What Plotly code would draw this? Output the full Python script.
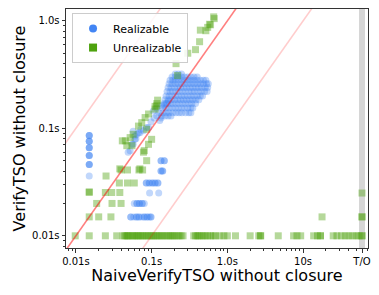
import math
import plotly.graph_objects as go

T_O = 60.0

# ---------------- data (seconds) ----------------
# small instances (left part)
real_low_x = [
    0.015, 0.015, 0.015, 0.015, 0.015, 0.015, 0.015, 0.015, 0.015, 0.015, 0.015,
    0.015, 0.015, 0.015, 0.015, 0.015,
    0.085, 0.093, 0.102, 0.111, 0.121, 0.093, 0.111, 0.085, 0.102, 0.121,
    0.094, 0.124,
    0.133, 0.147, 0.147, 0.133,
    0.133, 0.140, 0.140, 0.133,
    0.059, 0.064, 0.069, 0.075, 0.080, 0.064, 0.069, 0.075,
    0.053, 0.058, 0.063, 0.068, 0.074, 0.080, 0.087, 0.093, 0.098, 0.063, 0.080,
    0.053, 0.068, 0.087, 0.098,
    0.049, 0.052, 0.057, 0.060, 0.067, 0.078, 0.091, 0.117, 0.136, 0.167,
    0.117, 0.105, 0.086, 0.070, 0.060, 0.055, 0.064, 0.072, 0.098, 0.108,
    0.125, 0.145, 0.155, 0.057, 0.062, 0.128, 0.133,
]
real_low_y = [
    0.086, 0.076, 0.066, 0.056, 0.046, 0.036, 0.086, 0.076, 0.066, 0.056, 0.046,
    0.086, 0.076, 0.066, 0.056, 0.046,
    0.031, 0.031, 0.031, 0.031, 0.031, 0.031, 0.031, 0.031, 0.031, 0.031,
    0.025, 0.025,
    0.050, 0.050, 0.050, 0.050,
    0.040, 0.040, 0.040, 0.040,
    0.020, 0.020, 0.020, 0.020, 0.020, 0.020, 0.020, 0.020,
    0.015, 0.015, 0.015, 0.015, 0.015, 0.015, 0.015, 0.015, 0.015, 0.015, 0.015,
    0.015, 0.015, 0.015, 0.015,
    0.060, 0.062, 0.071, 0.079, 0.091, 0.095, 0.102, 0.131, 0.162, 0.180,
    0.155, 0.145, 0.102, 0.091, 0.085, 0.071, 0.088, 0.098, 0.115, 0.125,
    0.140, 0.165, 0.170, 0.094, 0.080, 0.118, 0.125,
]

# dense cluster of realizable instances (0.13s - 0.56s)
cluster_x = [
    0.205, 0.225, 0.248,
    0.186, 0.205, 0.225, 0.248, 0.272, 0.30, 0.33, 0.363, 0.40,
    0.175, 0.19, 0.205, 0.225, 0.248, 0.272, 0.30, 0.33, 0.363, 0.40, 0.44, 0.484, 0.52,
    0.17, 0.186, 0.205, 0.225, 0.248, 0.272, 0.30, 0.33, 0.363, 0.40, 0.44, 0.484, 0.532, 0.56,
    0.165, 0.18, 0.20, 0.22, 0.24, 0.265, 0.29, 0.32, 0.35, 0.385, 0.42, 0.46, 0.51, 0.55,
    0.16, 0.175, 0.19, 0.21, 0.23, 0.255, 0.28, 0.31, 0.34, 0.37, 0.41, 0.45, 0.50, 0.54,
    0.155, 0.17, 0.186, 0.205, 0.225, 0.248, 0.272, 0.30, 0.33, 0.363, 0.40, 0.44, 0.47,
    0.15, 0.165, 0.18, 0.20, 0.22, 0.24, 0.265, 0.29, 0.32, 0.35, 0.385, 0.42,
    0.145, 0.16, 0.175, 0.19, 0.21, 0.23, 0.255, 0.28, 0.31, 0.34, 0.38,
    0.14, 0.154, 0.169, 0.186, 0.205, 0.225, 0.248, 0.272, 0.30, 0.33, 0.35,
    0.14, 0.155, 0.17, 0.19, 0.21, 0.23, 0.25, 0.28, 0.31, 0.33,
    0.135, 0.15, 0.165, 0.18,
]
cluster_y = [
    0.32, 0.32, 0.32,
    0.30, 0.30, 0.30, 0.30, 0.30, 0.30, 0.30, 0.30, 0.30,
    0.28, 0.28, 0.28, 0.28, 0.28, 0.28, 0.28, 0.28, 0.28, 0.28, 0.28, 0.28, 0.28,
    0.26, 0.26, 0.26, 0.26, 0.26, 0.26, 0.26, 0.26, 0.26, 0.26, 0.26, 0.26, 0.26, 0.26,
    0.24, 0.24, 0.24, 0.24, 0.24, 0.24, 0.24, 0.24, 0.24, 0.24, 0.24, 0.24, 0.24, 0.24,
    0.22, 0.22, 0.22, 0.22, 0.22, 0.22, 0.22, 0.22, 0.22, 0.22, 0.22, 0.22, 0.22, 0.22,
    0.20, 0.20, 0.20, 0.20, 0.20, 0.20, 0.20, 0.20, 0.20, 0.20, 0.20, 0.20, 0.20,
    0.185, 0.185, 0.185, 0.185, 0.185, 0.185, 0.185, 0.185, 0.185, 0.185, 0.185, 0.185,
    0.17, 0.17, 0.17, 0.17, 0.17, 0.17, 0.17, 0.17, 0.17, 0.17, 0.17,
    0.155, 0.155, 0.155, 0.155, 0.155, 0.155, 0.155, 0.155, 0.155, 0.155, 0.155,
    0.14, 0.14, 0.14, 0.14, 0.14, 0.14, 0.14, 0.14, 0.14, 0.14,
    0.13, 0.13, 0.13, 0.13,
]

real_x = real_low_x + cluster_x
real_y = real_low_y + cluster_y

unreal_x = [
    # upper streak
    0.66, 0.67, 0.58, 0.60, 0.55, 0.44, 0.52, 0.43, 0.38, 0.30, 0.21, 0.22,
    # mixed with the blue tail
    0.117, 0.111, 0.091, 0.082, 0.074, 0.067, 0.057, 0.052, 0.045, 0.047, 0.055,
    0.100, 0.091, 0.078, 0.086, 0.038, 0.070, 0.117, 0.111, 0.120, 0.086, 0.041,
    # lower left
    0.015, 0.015, 0.025, 0.0395, 0.048, 0.068, 0.076, 0.080,
    0.0375, 0.048, 0.059,
    0.0245, 0.0297, 0.038,
    0.030, 0.0395, 0.0188,
    0.015, 0.020, 0.029,
    # bottom row (0.01s)
    0.0098, 0.015, 0.0245, 0.0346,
    0.042, 0.044, 0.046, 0.048, 0.050, 0.053, 0.056, 0.059, 0.062, 0.065, 0.068, 0.072, 0.076,
    0.080, 0.085, 0.090, 0.095, 0.100, 0.106, 0.112, 0.118, 0.125, 0.133, 0.140, 0.150,
    0.160, 0.170, 0.180, 0.190, 0.200, 0.215, 0.230, 0.245, 0.260,
    0.36, 0.38, 0.40, 0.42, 0.45, 0.48, 0.51, 0.55, 0.60, 0.65, 0.70, 0.80, 0.90, 1.0,
    1.28, 2.0, 2.6, 2.75, 2.75, 4.7, 7.5, 8.3, 9.3, 13.8, 15.5, 17.0, 17.0,
    25.0, 28.0, 32.0, 36.0, 40.0, 45.0, 50.0, 55.0, T_O, T_O,
    # timeouts / slow above the bottom row
    17.8, T_O, T_O, T_O,
]
unreal_y = [
    1.09, 1.05, 0.93, 0.92, 0.87, 0.82, 0.81, 0.64, 0.54, 0.50, 0.40, 0.31,
    0.162, 0.151, 0.136, 0.126, 0.113, 0.105, 0.088, 0.082, 0.0765, 0.069, 0.069,
    0.079, 0.071, 0.060, 0.050, 0.042, 0.042, 0.170, 0.160, 0.183, 0.098, 0.0765,
    0.0255, 0.0255, 0.036, 0.041, 0.041, 0.041, 0.041, 0.062,
    0.031, 0.031, 0.031,
    0.0253, 0.0253, 0.0253,
    0.020, 0.020, 0.020,
    0.015, 0.015, 0.015,
    0.01, 0.01, 0.01, 0.01,
    0.01, 0.01, 0.01, 0.01, 0.01, 0.01, 0.01, 0.01, 0.01, 0.01, 0.01, 0.01, 0.01,
    0.01, 0.01, 0.01, 0.01, 0.01, 0.01, 0.01, 0.01, 0.01, 0.01, 0.01, 0.01,
    0.01, 0.01, 0.01, 0.01, 0.01, 0.01, 0.01, 0.01, 0.01,
    0.01, 0.01, 0.01, 0.01, 0.01, 0.01, 0.01, 0.01, 0.01, 0.01, 0.01, 0.01, 0.01, 0.01,
    0.01, 0.01, 0.01, 0.01, 0.01, 0.01, 0.01, 0.01, 0.01, 0.01, 0.01, 0.01, 0.01,
    0.01, 0.01, 0.01, 0.01, 0.01, 0.01, 0.01, 0.01, 0.01, 0.01,
    0.015, 0.015, 0.015, 0.025,
]

x_tickvals = [0.01, 0.1, 1.0, 10.0, T_O]
x_ticktext = ["0.01s", "0.1s", "1.0s", "10s", "T/O"]
y_tickvals = [0.01, 0.1, 1.0]
y_ticktext = ["0.01s", "0.1s", "1.0s"]

x_range = [0.0074, 72.0]
y_range = [0.0077, 1.29]

BLUE = "rgb(66,133,244)"
GREEN = "rgb(78,162,14)"
FONT = "DejaVu Sans"

minor_vals = [m * 10.0 ** e for e in range(-3, 3) for m in range(2, 10)]

fig = go.Figure()

# timeout band
fig.add_trace(go.Scatter(x=[T_O, T_O], y=[1e-4, 100], mode="lines",
                         line=dict(color="rgba(200,200,200,0.75)", width=6),
                         showlegend=False, hoverinfo="skip"))

fig.add_trace(go.Scatter(x=real_x, y=real_y, mode="markers", name="Realizable",
                         marker=dict(color=BLUE, size=7, opacity=0.33, symbol="circle",
                                     line=dict(width=0)),
                         showlegend=False))
fig.add_trace(go.Scatter(x=unreal_x, y=unreal_y, mode="markers", name="Unrealizable",
                         marker=dict(color=GREEN, size=7, opacity=0.42, symbol="square",
                                     line=dict(width=0)),
                         showlegend=False))

# reference lines y = x, y = 10x, y = x/10
lx = [1e-4, 1e3]
for k, col in [(10.0, "rgba(255,0,0,0.2)"), (0.1, "rgba(255,0,0,0.2)"), (1.0, "rgba(255,0,0,0.5)")]:
    fig.add_trace(go.Scatter(x=lx, y=[k * v for v in lx], mode="lines",
                             line=dict(color=col, width=1.6),
                             showlegend=False, hoverinfo="skip"))

# legend entries (full opacity)
fig.add_trace(go.Scatter(x=[None], y=[None], mode="markers", name="Realizable",
                         marker=dict(color=BLUE, size=8, symbol="circle")))
fig.add_trace(go.Scatter(x=[None], y=[None], mode="markers", name="Unrealizable",
                         marker=dict(color=GREEN, size=8, symbol="square")))

axis_common = dict(type="log", showgrid=False, zeroline=False, showline=True,
                   linecolor="#333", linewidth=1, mirror=True, ticks="outside",
                   ticklen=3.5, tickwidth=0.8, tickcolor="#333", automargin=False,
                   tickfont=dict(family=FONT, size=10, color="black"))

# the page body adds an 8px offset, so the figure is 8px smaller than the window
fig.update_layout(
    width=371, height=287,
    margin=dict(l=58, r=11, t=1, b=47, autoexpand=False),
    paper_bgcolor="white", plot_bgcolor="white",
    font=dict(family=FONT, color="black"),
    xaxis=dict(axis_common, range=[math.log10(x_range[0]), math.log10(x_range[1])],
               tickmode="array", tickvals=x_tickvals, ticktext=x_ticktext,
               minor=dict(tickmode="array", tickvals=minor_vals, ticks="outside",
                          ticklen=2, tickwidth=0.6, tickcolor="#333"),
               title=dict(text="NaiveVerifyTSO without closure",
                          font=dict(family=FONT, size=16), standoff=4)),
    yaxis=dict(axis_common, range=[math.log10(y_range[0]), math.log10(y_range[1])],
               tickmode="array", tickvals=y_tickvals, ticktext=y_ticktext,
               minor=dict(tickmode="array", tickvals=minor_vals, ticks="outside",
                          ticklen=2, tickwidth=0.6, tickcolor="#333"),
               title=dict(text="VerifyTSO without closure",
                          font=dict(family=FONT, size=16), standoff=2)),
    legend=dict(x=0.02, y=0.983, xanchor="left", yanchor="top",
                bgcolor="rgba(255,255,255,0.85)", bordercolor="#cccccc", borderwidth=1,
                font=dict(family=FONT, size=11), tracegroupgap=0, itemwidth=30),
    showlegend=True,
)

fig.write_html("out.html")
